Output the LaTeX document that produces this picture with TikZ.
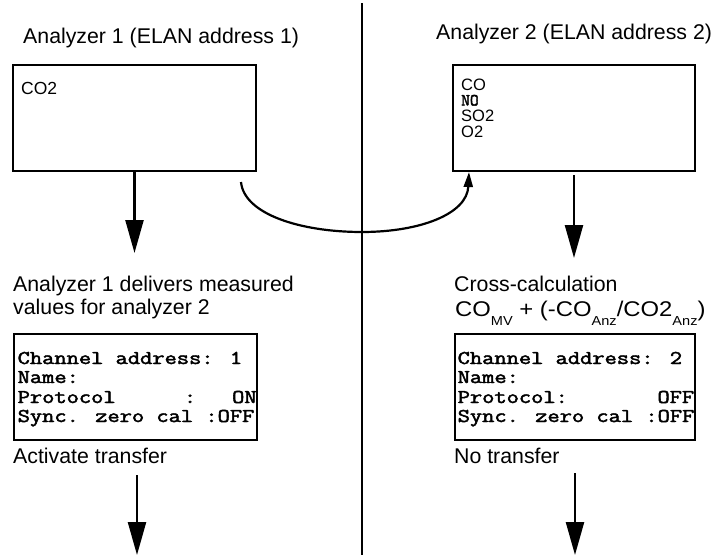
\documentclass[tikz,border=0pt]{standalone}
\usepackage{fontspec}
\setmainfont{Liberation Sans}
\newfontfamily\typebold{Latin Modern Mono}[FakeBold=2.2]
\usetikzlibrary{arrows.meta}
\newcommand\wideTT[1]{\scalebox{1.219}[1]{#1}}
\tikzset{
  panel/.style={draw, line width=2.6pt, inner sep=0pt},
  lbl/.style={anchor=base west, inner sep=0pt, font=\fontsize{21.3}{24}\selectfont},
  small/.style={anchor=base west, inner sep=0pt, font=\fontsize{16.5}{16}\selectfont},
  mono/.style={anchor=base west, inner sep=0pt, font=\typebold\fontsize{19.5}{20}\selectfont},
  bigarrow/.style={line width=2.4pt, -{Triangle[length=33pt,width=18pt]}},
  flow/.style={line width=2.2pt, -{Triangle[length=15pt,width=9pt]}},
  divider/.style={line width=2pt}
}
\begin{document}
\begin{tikzpicture}[x=1pt,y=-1pt]
\useasboundingbox (0,0) rectangle (713,555);

% divider
\coordinate (dtop) at (362,3);
\coordinate (dbot) at (362,555);
\draw[divider] (dtop) -- (dbot);

% titles
\node[lbl] (t1) at (23,43) {Analyzer 1 (ELAN address 1)};
\node[lbl] (t2) at (436,39) {Analyzer 2 (ELAN address 2)};

% upper boxes
\node[panel, minimum width=243pt, minimum height=106pt] (b1) at (134.5,118) {};
\node[panel, minimum width=242pt, minimum height=106pt] (b2) at (574,118) {};

\node[small, font=\fontsize{17.5}{18}\selectfont] (co2) at (21,94) {CO2};
\node[small] (g1) at (461,90) {CO};
\node[mono, font=\typebold\fontsize{17}{16}\selectfont] (g2) at (461,105.5) {NO};
\node[small] (g3) at (461,121.5) {SO2};
\node[small] (g4) at (461,137) {O2};

% arrows below upper boxes
\coordinate (a1e) at (134.5,253);
\draw[bigarrow] (b1.south) -- (a1e);
\coordinate (a2s) at (574,175);
\coordinate (a2e) at (574,258);
\draw[bigarrow] (a2s) -- (a2e);

% curved transfer arrow
\coordinate (cs) at (241,182);
\coordinate (cm) at (362,232);
\coordinate (ce) at (469,172);
\draw[flow] (cs) .. controls (244,214) and (300,232) .. (cm)
               .. controls (420,232) and (467,214) .. (ce);

% middle texts
\node[lbl] (m1) at (13,291) {Analyzer 1 delivers measured};
\node[lbl] (m2) at (13,314) {values for analyzer 2};
\node[lbl] (m3) at (454,291) {Cross-calculation};
\node[lbl] (m4) at (455,316) {\scalebox{1.12}[1]{CO\raisebox{-9pt}{\fontsize{13}{14}\selectfont MV} + (-CO\raisebox{-9pt}{\fontsize{13}{14}\selectfont Anz}/CO2\raisebox{-9pt}{\fontsize{13}{14}\selectfont Anz})}};

% lower boxes
\node[panel, minimum width=243pt, minimum height=106pt] (b3) at (135.5,387) {};
\node[panel, minimum width=240pt, minimum height=106pt] (b4) at (575,387) {};

\node[mono] (l1) at (17.5,364) {\wideTT{Channel address: 1}};
\node[mono] (l2) at (17.5,383) {\wideTT{Name:}};
\node[mono] (l3) at (17.5,403) {\wideTT{\makebox[196pt][l]{Protocol\hfill:\hspace{29.5pt}ON}}};
\node[mono] (l4) at (17.5,422) {\wideTT{Sync. zero cal :OFF}};

\node[mono] (r1) at (457.5,364) {\wideTT{Channel address: 2}};
\node[mono] (r2) at (457.5,383) {\wideTT{Name:}};
\node[mono] (r3) at (457.5,403) {\wideTT{\makebox[194pt][l]{Protocol:\hfill OFF}}};
\node[mono] (r4) at (457.5,422) {\wideTT{Sync. zero cal :OFF}};

% bottom texts
\node[lbl] (bt1) at (13,463) {Activate transfer};
\node[lbl] (bt2) at (454,463) {No transfer};

% bottom arrows
\coordinate (a3s) at (137,475);
\coordinate (a3e) at (137,555);
\draw[bigarrow] (a3s) -- (a3e);
\coordinate (a4s) at (575,473);
\coordinate (a4e) at (575,555);
\draw[bigarrow] (a4s) -- (a4e);
\end{tikzpicture}
\end{document}
